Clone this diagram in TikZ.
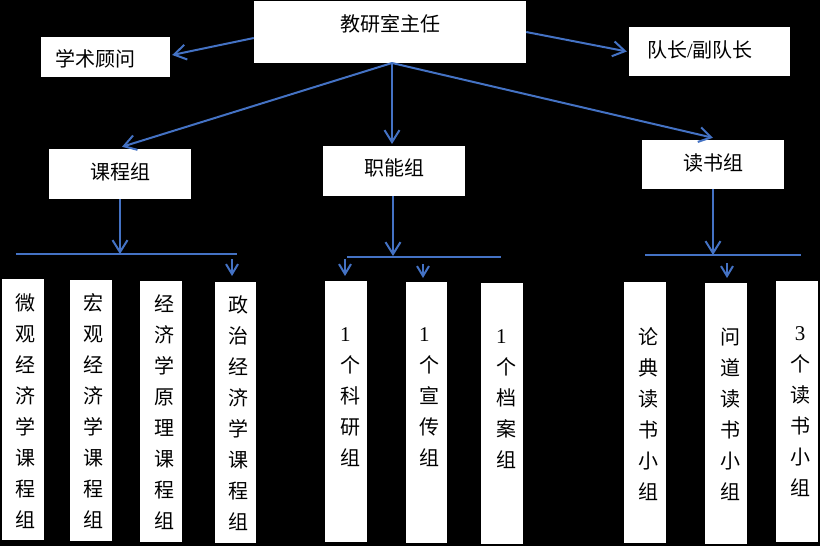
\documentclass[tikz,border=0pt]{standalone}
\usepackage{fontspec}
\setmainfont{Noto Sans CJK SC}
\newfontfamily\lat{Liberation Serif}
\usetikzlibrary{arrows.meta}
\definecolor{lnblue}{RGB}{68,114,196}
\begin{document}
\begin{tikzpicture}[x=1pt,y=-1pt,
 box/.style={fill=white, draw=none, inner sep=0pt},
 vbox/.style={box, minimum width=42, minimum height=261},
 txt/.style={inner sep=0pt, font=\fontsize{20}{31}\selectfont, align=center, text=black},
 ln/.style={draw=lnblue, line width=2pt},
 arr/.style={ln, -{Straight Barb[length=12pt,width=15pt]}},
 sarr/.style={ln, -{Straight Barb[length=10pt,width=12pt]}},
]
\fill[black] (0,0) rectangle (820,546);
\useasboundingbox (0,0) rectangle (820,546);

% top level
\node[box, minimum width=272, minimum height=62] (top) at (390,32) {};
\node[txt] (topt) at (390,24) {教研室主任};
\node[box, minimum width=129, minimum height=40] (adv) at (105.5,57) {};
\node[txt] (advt) at (96,59) {学术顾问};
\node[box, minimum width=161, minimum height=49] (lead) at (709.5,51.5) {};
\node[txt] (leadt) at (700,50) {队长{\lat /}副队长};

% second level
\node[box, minimum width=142, minimum height=50] (kc) at (120,174) {};
\node[txt] (kct) at (120,172) {课程组};
\node[box, minimum width=142, minimum height=50] (zn) at (394,171) {};
\node[txt] (znt) at (394,168) {职能组};
\node[box, minimum width=142, minimum height=49] (ds) at (713,164.5) {};
\node[txt] (dst) at (713,163) {读书组};

% bottom boxes
\node[vbox] (b1) at (23,409.5) {};
\node[txt] (b1t) at (26,411) {微\\观\\经\\济\\学\\课\\程\\组};
\node[vbox] (b2) at (91,410.5) {};
\node[txt] (b2t) at (93,411) {宏\\观\\经\\济\\学\\课\\程\\组};
\node[vbox] (b3) at (161,411.5) {};
\node[txt] (b3t) at (164,412) {经\\济\\学\\原\\理\\课\\程\\组};
\node[vbox, minimum width=41] (b4) at (235.5,412.5) {};
\node[txt] (b4t) at (238,413) {政\\治\\经\\济\\学\\课\\程\\组};

\node[vbox] (f1) at (346,411.5) {};
\node[txt, align=left] (f1t) at (350,397) {{\lat\fontsize{21}{31}\selectfont 1}\\个\\科\\研\\组};
\node[vbox, minimum width=41] (f2) at (426.5,412.5) {};
\node[txt, align=left] (f2t) at (429,397) {{\lat\fontsize{21}{31}\selectfont 1}\\个\\宣\\传\\组};
\node[vbox] (f3) at (502,413.5) {};
\node[txt, align=left] (f3t) at (506,399) {{\lat\fontsize{21}{31}\selectfont 1}\\个\\档\\案\\组};

\node[vbox] (r1) at (645,412.5) {};
\node[txt] (r1t) at (648,414) {论\\典\\读\\书\\小\\组};
\node[vbox] (r2) at (726,413) {};
\node[txt] (r2t) at (730,414) {问\\道\\读\\书\\小\\组};
\node[vbox] (r3) at (797,411.5) {};
\node[txt] (r3t) at (800,412) {{\lat\fontsize{21}{31}\selectfont 3}\\个\\读\\书\\小\\组};

% connectors from top
\coordinate (hub) at (392,63);
\draw[arr] ([yshift=-6pt]top.west) -- ([xshift=2pt,yshift=2pt]adv.east);
\draw[arr] (top.east) -- ([xshift=-2pt]lead.west);
\draw[arr] (hub) -- ([xshift=2pt,yshift=2pt]kc.north);
\draw[arr] (hub) -- (hub |- 0,144);
\draw[arr] (hub) -- ([yshift=2pt]ds.north);

% course group bar
\coordinate (kcbar) at (120,254);
\coordinate (kcl) at (16,254);
\coordinate (kcr) at (237,254);
\draw[arr] (kc.south) -- (kcbar);
\draw[ln] (kcl) -- (kcr);
\coordinate (ka1) at (232,259);
\coordinate (ka2) at (232,276);
\draw[sarr] (ka1) -- (ka2);

% functional group bar
\coordinate (znbar) at (393,256);
\coordinate (znl) at (347,257);
\coordinate (znr) at (501,257);
\draw[arr] ([xshift=-1pt]zn.south) -- (znbar);
\draw[ln] (znl) -- (znr);
\coordinate (za1) at (345,259);
\coordinate (za2) at (345,276);
\draw[sarr] (za1) -- (za2);
\coordinate (zb1) at (423,264);
\coordinate (zb2) at (423,278);
\draw[sarr] (zb1) -- (zb2);

% reading group bar
\coordinate (dsbar) at (713,255);
\coordinate (dsl) at (645,255);
\coordinate (dsr) at (801,255);
\draw[arr] (ds.south) -- (dsbar);
\draw[ln] (dsl) -- (dsr);
\coordinate (da1) at (727,263);
\coordinate (da2) at (727,278);
\draw[sarr] (da1) -- (da2);
\end{tikzpicture}
\end{document}
